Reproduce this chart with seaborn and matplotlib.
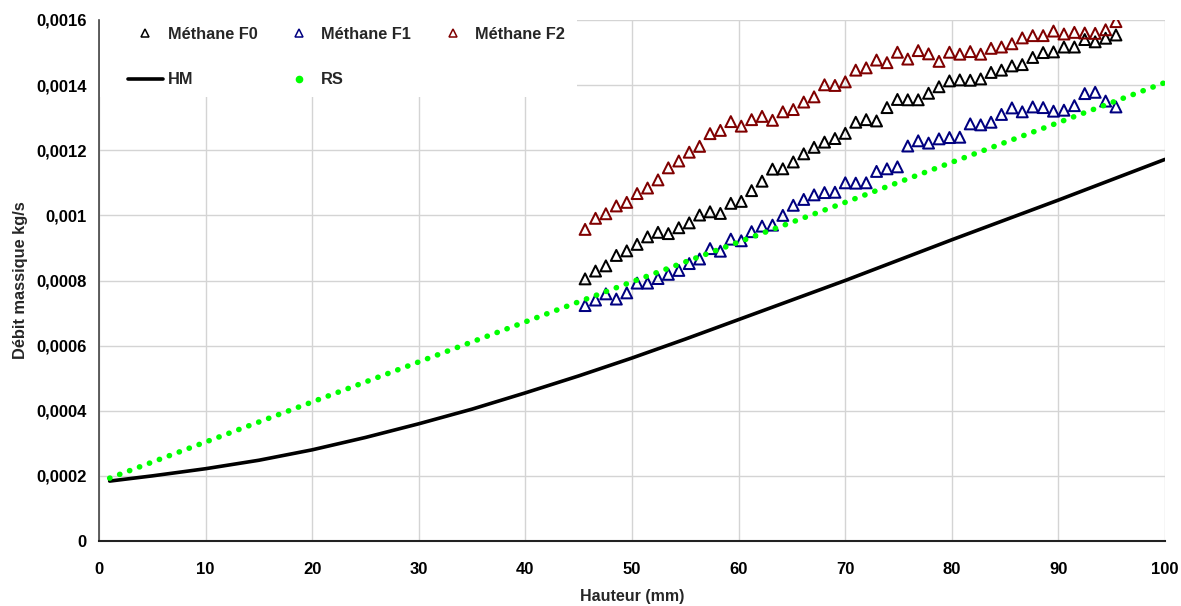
import numpy as np
import pandas as pd
import matplotlib
matplotlib.use("Agg")
import matplotlib.pyplot as plt
import seaborn as sns
from matplotlib.lines import Line2D
from matplotlib.patches import Rectangle
from matplotlib.ticker import MultipleLocator, FuncFormatter

# -----------------------
# Data
# -----------------------
hauteur_mes = [45.60, 46.58, 47.55, 48.53, 49.51, 50.48, 51.46, 52.44, 53.41, 54.39,
               55.37, 56.34, 57.32, 58.29, 59.27, 60.25, 61.22, 62.20, 63.18, 64.15,
               65.13, 66.11, 67.08, 68.06, 69.04, 70.01, 70.99, 71.97, 72.94, 73.92,
               74.90, 75.87, 76.85, 77.82, 78.80, 79.78, 80.75, 81.73, 82.71, 83.68,
               84.66, 85.64, 86.61, 87.59, 88.57, 89.54, 90.52, 91.50, 92.47, 93.45,
               94.43, 95.40]

methane_f0 = [0.000805, 0.000829, 0.000845, 0.000877, 0.000891, 0.000911, 0.000934, 0.000948, 0.000944, 0.000962,
              0.000977, 0.001001, 0.001011, 0.001006, 0.001037, 0.001043, 0.001076, 0.001105, 0.001142, 0.001143,
              0.001164, 0.001189, 0.001209, 0.001225, 0.001236, 0.001252, 0.001286, 0.001294, 0.001290, 0.001331,
              0.001356, 0.001355, 0.001355, 0.001375, 0.001395, 0.001413, 0.001416, 0.001415, 0.001419, 0.001439,
              0.001446, 0.001459, 0.001463, 0.001485, 0.001500, 0.001502, 0.001517, 0.001517, 0.001540, 0.001533,
              0.001544, 0.001554]

methane_f1 = [0.000723, 0.000740, 0.000759, 0.000743, 0.000762, 0.000792, 0.000792, 0.000806, 0.000819, 0.000831,
              0.000852, 0.000866, 0.000898, 0.000890, 0.000927, 0.000922, 0.000950, 0.000967, 0.000970, 0.001000,
              0.001031, 0.001049, 0.001063, 0.001070, 0.001071, 0.001100, 0.001099, 0.001100, 0.001135, 0.001143,
              0.001149, 0.001213, 0.001229, 0.001222, 0.001235, 0.001239, 0.001240, 0.001281, 0.001278, 0.001286,
              0.001310, 0.001330, 0.001318, 0.001333, 0.001331, 0.001320, 0.001323, 0.001337, 0.001374, 0.001378,
              0.001351, 0.001333]

methane_f2 = [0.000957, 0.000991, 0.001005, 0.001029, 0.001040, 0.001067, 0.001084, 0.001109, 0.001146, 0.001167,
              0.001194, 0.001212, 0.001251, 0.001261, 0.001288, 0.001274, 0.001294, 0.001304, 0.001292, 0.001318,
              0.001325, 0.001348, 0.001364, 0.001401, 0.001399, 0.001410, 0.001446, 0.001453, 0.001477, 0.001469,
              0.001501, 0.001480, 0.001506, 0.001496, 0.001473, 0.001501, 0.001495, 0.001503, 0.001495, 0.001513,
              0.001517, 0.001527, 0.001545, 0.001552, 0.001552, 0.001566, 0.001557, 0.001562, 0.001560, 0.001559,
              0.001570, 0.001595]

hauteur_hm = [1, 5, 10, 15, 20, 25, 30, 35, 40, 45, 50, 55, 60, 70, 80, 90, 100]
debit_hm = [0.000184, 0.000200, 0.000222, 0.000248, 0.000280, 0.000318, 0.000360, 0.000405, 0.000455,
            0.000507, 0.000562, 0.000620, 0.000680, 0.000800, 0.000925, 0.001047, 0.001172]

hauteur_rs = [1, 10, 20, 30, 40, 50, 60, 70, 80, 90, 100]
debit_rs = [0.000193, 0.000304, 0.000427, 0.000550, 0.000673, 0.000796, 0.000918, 0.001040, 0.001163,
            0.001285, 0.001408]

series_labels = ["Méthane F0", "Méthane F1", "Méthane F2"]
series_colors = ["#000000", "#000080", "#800000"]

# -----------------------
# Style
# -----------------------
sns.set_style("whitegrid")
plt.rcParams['font.family'] = ['Liberation Sans', 'DejaVu Sans']
plt.rcParams['font.weight'] = 'bold'

fig = plt.figure(figsize=(11.81, 6.06), dpi=100)
ax = fig.add_axes([99 / 1181, 65 / 606, 1066 / 1181, 521 / 606])

# -----------------------
# Plot
# -----------------------
for vals, lab, col in zip([methane_f0, methane_f1, methane_f2], series_labels, series_colors):
    sns.scatterplot(x=hauteur_mes, y=vals, ax=ax, marker='^', s=62,
                    facecolor='none', edgecolor=col, linewidth=1.45, zorder=3)

sns.lineplot(x=hauteur_hm, y=debit_hm, ax=ax, color='black', linewidth=2.6,
             estimator=None, sort=False, zorder=4)

sns.lineplot(x=hauteur_rs, y=debit_rs, ax=ax, color='#00ff00', linewidth=4.0,
             estimator=None, sort=False, zorder=5,
             linestyle=(0, (0.05, 1.86)), dash_capstyle='round')

# -----------------------
# Axes
# -----------------------
ax.set_xlim(0, 100)
ax.set_ylim(0, 0.0016)
ax.xaxis.set_major_locator(MultipleLocator(10))
ax.yaxis.set_major_locator(MultipleLocator(0.0002))
ax.yaxis.set_major_formatter(FuncFormatter(lambda v, p: ('%g' % round(v, 6)).replace('.', ',')))

ax.grid(True, color='#d4d4d4', linewidth=1)
for s in ['top', 'right']:
    ax.spines[s].set_visible(False)
ax.spines['left'].set_color('#444444')
ax.spines['bottom'].set_color('#222222')
ax.spines['left'].set_linewidth(1.2)
ax.spines['bottom'].set_linewidth(1.5)

ax.tick_params(axis='both', direction='out', length=4, width=1, color='#444444',
               labelsize=12, labelcolor='black')
ax.tick_params(axis='y', pad=5)
ax.tick_params(axis='x', pad=11)
for t in ax.get_xticklabels() + ax.get_yticklabels():
    t.set_fontweight('bold')

ax.set_xlabel("Hauteur (mm)", fontsize=11.5, fontweight='bold', labelpad=9)
ax.set_ylabel("Débit massique kg/s", fontsize=11.8, fontweight='bold', labelpad=5.5)

# white block behind legend (hides grid lines, like the original)
ax.add_patch(Rectangle((0.001, 0.852), 0.447, 0.16, transform=ax.transAxes,
                       facecolor='white', edgecolor='none', zorder=1.5, clip_on=False))

# -----------------------
# Legend
# -----------------------
h_f0 = Line2D([], [], marker='^', ls='none', mfc='none', mec=series_colors[0], ms=5.5, mew=1.1)
h_f1 = Line2D([], [], marker='^', ls='none', mfc='none', mec=series_colors[1], ms=5.5, mew=1.1)
h_f2 = Line2D([], [], marker='^', ls='none', mfc='none', mec=series_colors[2], ms=5.5, mew=1.1)
h_hm = Line2D([], [], color='black', lw=2.6)
h_rs = Line2D([], [], marker='o', ls='none', color='#00ff00', ms=4.5)

ax.legend([h_f0, h_hm, h_f1, h_rs, h_f2],
          ["Méthane F0", "HM", "Méthane F1", "RS", "Méthane F2"],
          ncol=3, frameon=False, loc='upper left',
          bbox_to_anchor=(128 / 1181, 1 - 27 / 606), bbox_transform=fig.transFigure,
          borderpad=0, borderaxespad=0, handlelength=2.13, handletextpad=0.3,
          columnspacing=1.46, labelspacing=1.85,
          prop={'weight': 'bold', 'size': 11.8})

plt.savefig("out.png", dpi=100)
